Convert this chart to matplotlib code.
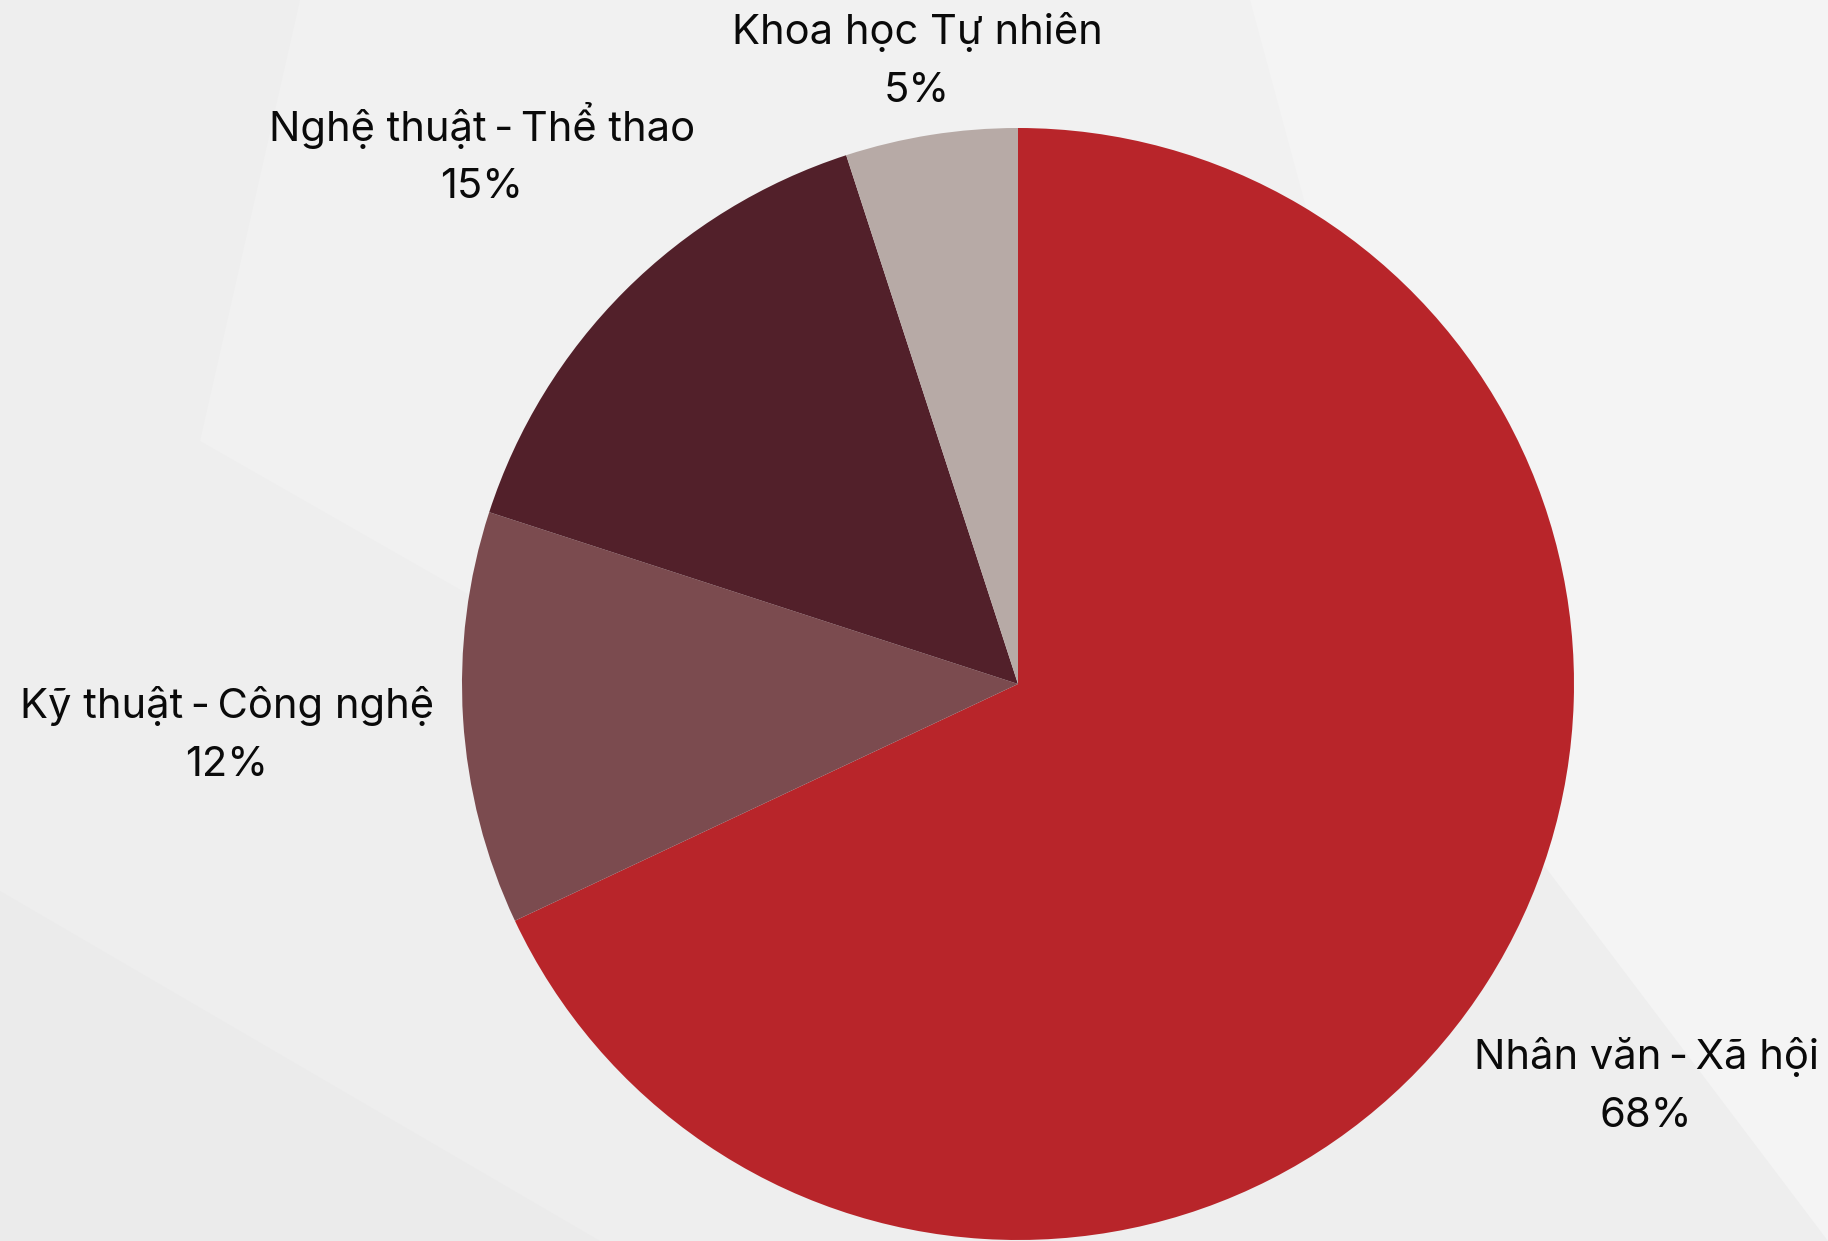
import matplotlib
matplotlib.use('Agg')
import matplotlib.pyplot as plt
from matplotlib.patches import Polygon

plt.rcParams['font.family'] = ['Inter', 'DejaVu Sans']

# data
categories = ['Nhân văn\u2009-\u2009Xã hội', 'Kỹ thuật\u2009-\u2009Công nghệ',
              'Nghệ thuật\u2009-\u2009Thể thao', 'Khoa học Tự nhiên']
shares = [68, 12, 15, 5]
colors = ['#B8252A', '#7B4B4F', '#52202A', '#B7AAA6']

W, H = 1828, 1241
fig = plt.figure(figsize=(W / 100, H / 100), dpi=100)
fig.patch.set_facecolor('#EEEEEE')
ax = fig.add_axes([0, 0, 1, 1])
ax.set_xlim(0, W); ax.set_ylim(0, H)
ax.axis('off')

# soft background shapes
ax.add_patch(Polygon([(300, H), (W, H), (W, 700), (900, 400), (200, 800)],
                     closed=True, fc='#F1F1F1', ec='none', zorder=0))
ax.add_patch(Polygon([(1250, H), (W, H), (W, 0), (1450, 500)],
                     closed=True, fc='#F4F4F4', ec='none', zorder=0))
ax.add_patch(Polygon([(0, 0), (600, 0), (0, 350)],
                     closed=True, fc='#EBEBEB', ec='none', zorder=0))

# pie (pixel coords, y up)
cx, cy, r = 1018, H - 684, 556
ax.pie(shares, colors=colors, startangle=90, counterclock=False,
       center=(cx, cy), radius=r, frame=True,
       wedgeprops=dict(linewidth=0))
ax.set_xlim(0, W); ax.set_ylim(0, H)
ax.set_aspect('equal')
ax.axis('off')

# label positions (pixel centre of the two lines, y down)
label_pos = [(1646, 1086), (227, 735), (482, 154), (917, 61)]
for name, v, (lx, ly) in zip(categories, shares, label_pos):
    ax.text(lx, H - ly, f'{name}\n{v}%', ha='center', va='center',
            fontsize=30, color='#0A0A0A', linespacing=1.66)

fig.savefig('out.png', dpi=100)
